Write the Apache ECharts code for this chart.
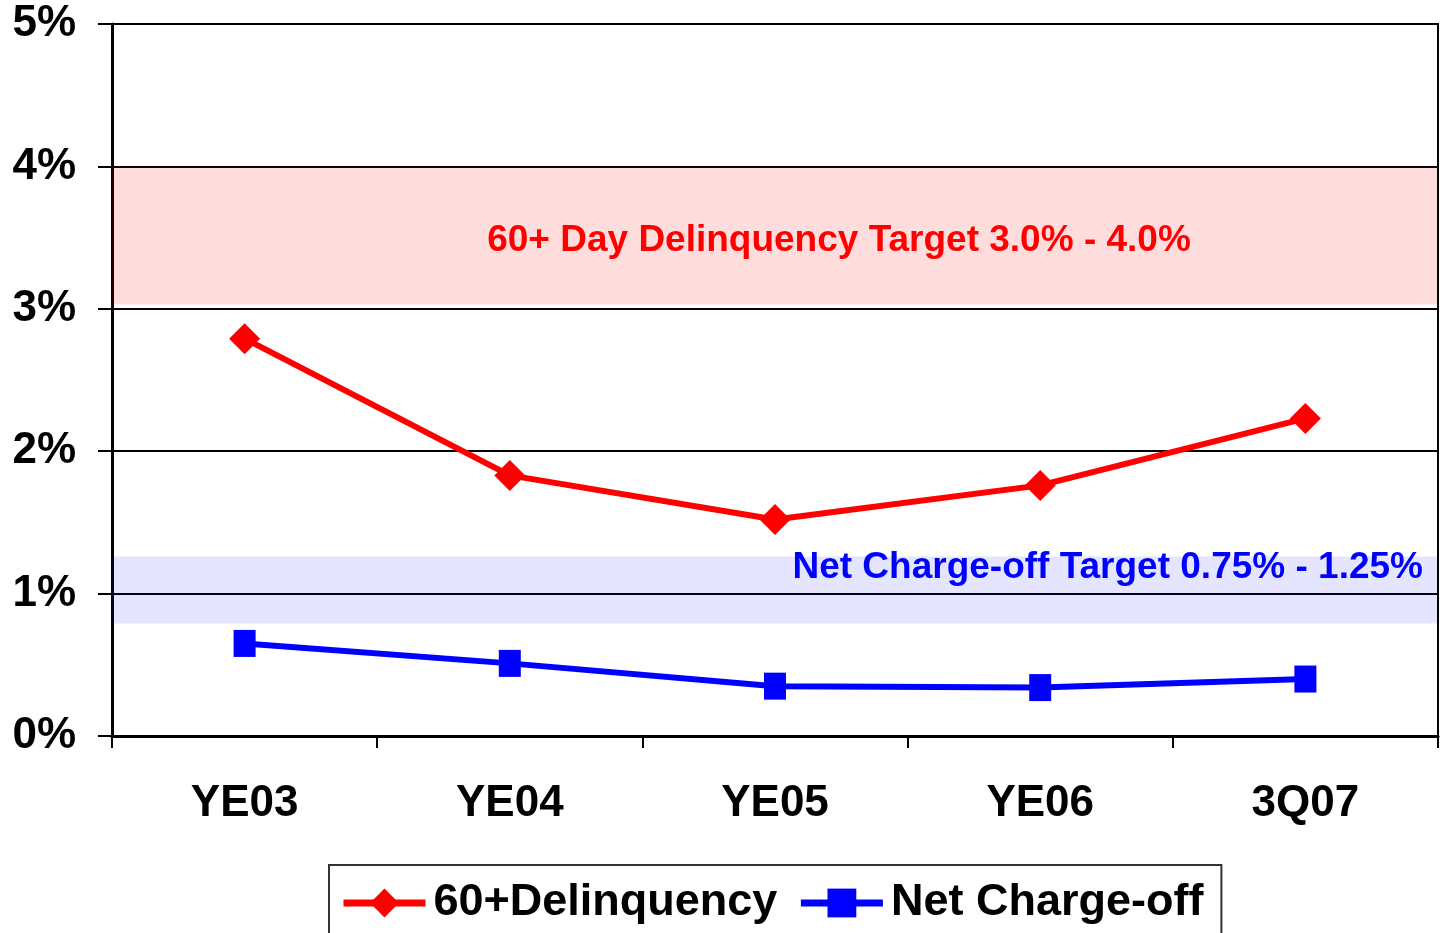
<!DOCTYPE html>
<html>
<head>
<meta charset="utf-8">
<script src="https://cdn.jsdelivr.net/npm/echarts@6/dist/echarts.min.js"></script>
<style>
  html, body { margin: 0; padding: 0; background: #fff; }
  #chart { width: 1443px; height: 933px; }
</style>
</head>
<body>
<div id="chart"></div>
<script>
// data
var categories = ['YE03', 'YE04', 'YE05', 'YE06', '3Q07'];
var delinquency = [2.79, 1.83, 1.52, 1.76, 2.23];
var chargeOff = [0.65, 0.51, 0.35, 0.34, 0.40];
var delinqBand = [3.03, 4.0];
var chargeOffBand = [0.79, 1.26];
var delinqLabel = '60+ Day Delinquency Target 3.0% - 4.0%';
var chargeOffLabel = 'Net Charge-off Target 0.75% - 1.25%';

var font = '"Liberation Sans", Arial, sans-serif';
var chart = echarts.init(document.getElementById('chart'));

var option = {
    animation: false,
    textStyle: { fontFamily: font },
    grid: {
        left: 112,
        right: 5,
        top: 24,
        bottom: 197,
        show: true,
        borderColor: '#000',
        borderWidth: 2
    },
    legend: {
        left: 329,
        top: 865,
        padding: [10, 18, 4, 11],
        itemGap: 20,
        itemWidth: 82,
        itemHeight: 36,
        borderColor: '#333',
        borderWidth: 2,
        lineStyle: { width: 7 },
        textStyle: {
            fontSize: 45,
            fontWeight: 'bold',
            color: '#000',
            fontFamily: font,
            lineHeight: 56,
            padding: [0, 0, 0, 3]
        },
        data: ['60+Delinquency', 'Net Charge-off']
    },
    xAxis: {
        type: 'category',
        data: categories,
        boundaryGap: true,
        axisLine: { lineStyle: { color: '#000', width: 3 } },
        axisTick: { show: true, length: 12, lineStyle: { color: '#000', width: 2 } },
        axisLabel: {
            margin: 46,
            fontSize: 44,
            fontWeight: 'bold',
            color: '#000',
            fontFamily: font
        }
    },
    yAxis: {
        type: 'value',
        min: 0,
        max: 5,
        interval: 1,
        axisLine: { show: true, lineStyle: { color: '#000', width: 3 } },
        axisTick: { show: true, length: 14, lineStyle: { color: '#000', width: 2 } },
        splitLine: { lineStyle: { color: '#000', width: 2 } },
        axisLabel: {
            margin: 36,
            fontSize: 44,
            fontWeight: 'bold',
            color: '#000',
            fontFamily: font,
            formatter: '{value}%'
        }
    },
    series: [
        {
            name: '60+Delinquency',
            type: 'line',
            data: delinquency,
            symbol: 'diamond',
            symbolSize: [31, 31],
            lineStyle: { color: '#ff0000', width: 6 },
            itemStyle: { color: '#ff0000' },
            z: 4,
            markArea: {
                silent: true,
                itemStyle: { color: 'rgba(255,0,0,0.135)' },
                label: {
                    show: true,
                    position: 'inside',
                    offset: [64, 5],
                    color: '#ff0000',
                    fontSize: 37,
                    fontWeight: 'bold',
                    fontFamily: font
                },
                data: [[
                    { yAxis: delinqBand[0], name: delinqLabel },
                    { yAxis: delinqBand[1] }
                ]]
            }
        },
        {
            name: 'Net Charge-off',
            type: 'line',
            data: chargeOff,
            symbol: 'rect',
            symbolSize: [22, 27],
            lineStyle: { color: '#0000ff', width: 6 },
            itemStyle: { color: '#0000ff' },
            z: 3,
            markArea: {
                silent: true,
                itemStyle: { color: 'rgba(0,0,255,0.1)' },
                label: {
                    show: true,
                    position: 'insideTopRight',
                    distance: 0,
                    offset: [-15, -7],
                    color: '#0000ff',
                    fontSize: 37,
                    fontWeight: 'bold',
                    fontFamily: font
                },
                data: [[
                    { yAxis: chargeOffBand[0], name: chargeOffLabel },
                    { yAxis: chargeOffBand[1] }
                ]]
            }
        }
    ]
};

chart.setOption(option);
</script>
</body>
</html>
